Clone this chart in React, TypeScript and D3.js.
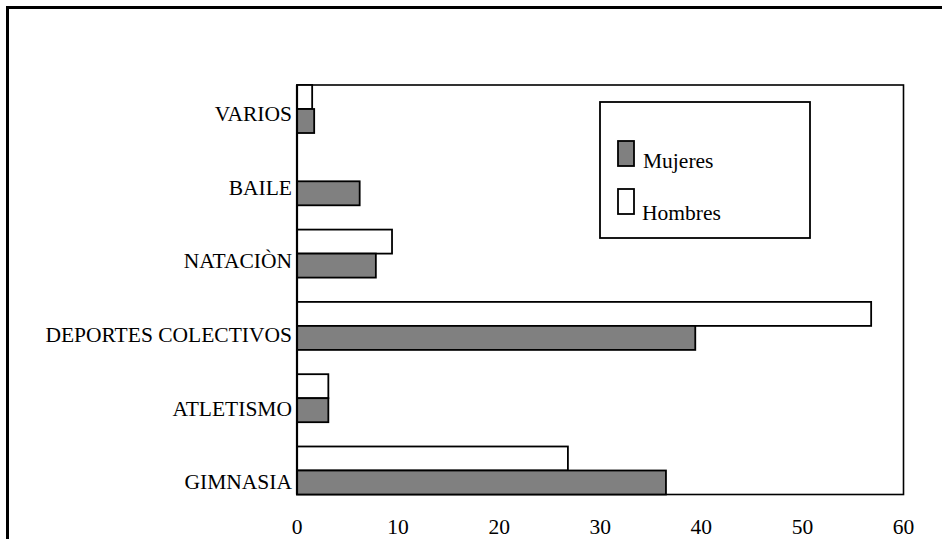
import React from "react";
import * as d3 from "d3";

const categories = ["VARIOS", "BAILE", "NATACIÒN", "DEPORTES COLECTIVOS", "ATLETISMO", "GIMNASIA"];
const hombres = [1.5, 0, 9.4, 56.8, 3.1, 26.8];
const mujeres = [1.7, 6.2, 7.8, 39.4, 3.1, 36.5];
const xTicks = [0, 10, 20, 30, 40, 50, 60];
const seriesNames = ["Mujeres", "Hombres"];

const W = 942;
const H = 539;
const plot = { left: 297, right: 903.5, top: 85, bottom: 494.5 };
const FONT = "Liberation Serif, Times New Roman, Times, serif";
const GRAY = "#808080";
const textStyle: React.CSSProperties = { fontFamily: FONT, fontSize: "21.5px" };

export default function App() {
  const x = d3.scaleLinear().domain([0, 60]).range([plot.left, plot.right]);
  const y = d3
    .scaleBand<string>()
    .domain(categories)
    .range([plot.top, plot.bottom])
    .paddingInner(0.336)
    .paddingOuter(0);
  const bw = y.bandwidth();
  const half = bw / 2;
  const labelY = d3
    .scalePoint<string>()
    .domain(categories)
    .range([(y(categories[0]) as number) + bw * 0.6, (y(categories[categories.length - 1]) as number) + bw * 0.75]);

  return (
    <svg
      width={W}
      height={H}
      style={{ position: "absolute", left: 0, top: 0, background: "#fff", fontFamily: FONT }}
    >
      <rect x={0} y={0} width={W} height={H} fill="#fff" />
      {/* outer thick border (cropped on right and bottom) */}
      <path d={`M7.5,${H + 5} V7.5 H${W + 5}`} fill="none" stroke="#000" strokeWidth={3} />

      {/* plot frame */}
      <rect
        x={plot.left}
        y={plot.top}
        width={plot.right - plot.left}
        height={plot.bottom - plot.top}
        fill="none"
        stroke="#000"
        strokeWidth={1.6}
      />

      {/* bars */}
      {categories.map((c, i) => {
        const y0 = y(c) as number;
        return (
          <g key={c}>
            {hombres[i] > 0 && (
              <rect
                x={x(0)}
                y={y0}
                width={x(hombres[i]) - x(0)}
                height={half}
                fill="#fff"
                stroke="#000"
                strokeWidth={1.8}
              />
            )}
            {mujeres[i] > 0 && (
              <rect
                x={x(0)}
                y={y0 + half}
                width={x(mujeres[i]) - x(0)}
                height={half}
                fill={GRAY}
                stroke="#000"
                strokeWidth={1.8}
              />
            )}
          </g>
        );
      })}

      {/* left axis line */}
      <line x1={plot.left} x2={plot.left} y1={plot.top} y2={plot.bottom} stroke="#000" strokeWidth={2.2} />

      {/* category labels */}
      {categories.map((c) => (
        <text
          key={c}
          x={plot.left - 5}
          y={labelY(c) as number}
          textAnchor="end"
          dominantBaseline="central"
          style={textStyle}
          fill="#000"
        >
          {c}
        </text>
      ))}

      {/* x tick labels */}
      {xTicks.map((t) => (
        <text
          key={t}
          x={x(t)}
          y={527}
          textAnchor="middle"
          dominantBaseline="central"
          style={textStyle}
          fill="#000"
        >
          {t}
        </text>
      ))}

      {/* legend */}
      <g>
        <rect x={600} y={102} width={210} height={136} fill="#fff" stroke="#000" strokeWidth={1.8} />
        {seriesNames.map((s, i) => (
          <g key={s}>
            <rect
              x={618}
              y={141 + i * 48}
              width={16}
              height={25}
              fill={s === "Mujeres" ? GRAY : "#fff"}
              stroke="#000"
              strokeWidth={1.8}
            />
            <text x={643 - i} y={168 + i * 52} style={textStyle} fill="#000">
              {s}
            </text>
          </g>
        ))}
      </g>
    </svg>
  );
}
